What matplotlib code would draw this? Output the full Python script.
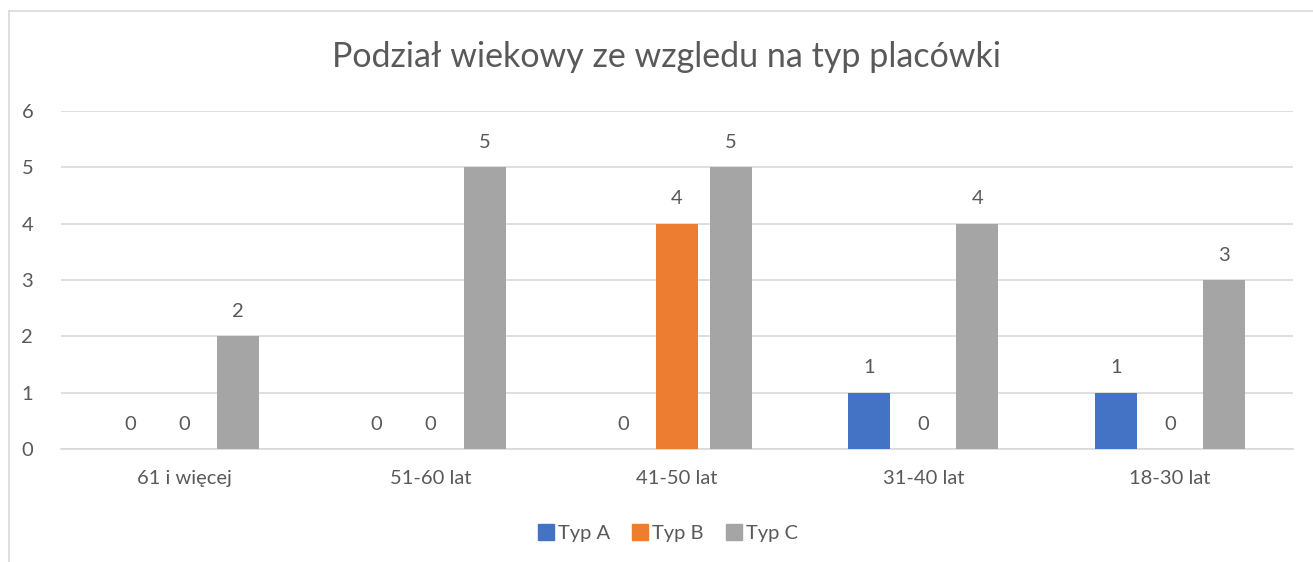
import matplotlib
matplotlib.use("Agg")
import matplotlib.pyplot as plt
import numpy as np
from matplotlib.lines import Line2D

categories = ["61 i więcej", "51-60 lat", "41-50 lat", "31-40 lat", "18-30 lat"]
series_names = ["Typ A", "Typ B", "Typ C"]
typ_a = [0, 0, 0, 1, 1]
typ_b = [0, 0, 4, 0, 0]
typ_c = [2, 5, 5, 4, 3]
colors = ["#4472C4", "#ED7D31", "#A5A5A5"]
title = "Podział wiekowy ze wzgledu na typ placówki"

plt.rcParams['font.family'] = ['Lato', 'DejaVu Sans']
txt = "#595959"

fig = plt.figure(figsize=(13.13, 5.62), dpi=100)
ax = fig.add_axes([61/1313, 1-449/562, (1293-61)/1313, (449-111)/562])

x = np.arange(len(categories))
offsets = [-0.219, 0.0, 0.219]
width = 0.170
for vals, off, col, name in zip([typ_a, typ_b, typ_c], offsets, colors, series_names):
    bars = ax.bar(x + off, vals, width, color=col, label=name, zorder=3)
    for b, v in zip(bars, vals):
        ax.annotate(str(v), (b.get_x() + b.get_width()/2, v), xytext=(0, 25),
                    textcoords="offset pixels", ha="center", va="center",
                    fontsize=14.5, color=txt)

ax.set_xlim(-0.5, len(categories) - 0.5)
ax.set_ylim(0, 6)
ax.set_yticks(range(0, 7))
ax.yaxis.grid(True, color="#D9D9D9", lw=1.2, zorder=0)
ax.set_axisbelow(True)
for s in ["top", "right", "left"]:
    ax.spines[s].set_visible(False)
ax.spines["bottom"].set_color("#D9D9D9")
ax.spines["bottom"].set_linewidth(1.2)
ax.set_xticks(x)
ax.set_xticklabels(categories)
ax.tick_params(axis="both", length=0, labelsize=14.5, colors=txt)
ax.tick_params(axis="y", pad=20)
ax.tick_params(axis="x", pad=15)

fig.text(667/1313, 1-57/562, title, ha="center", va="center", fontsize=24.5, color=txt)

handles = [Line2D([], [], marker="s", ls="", markersize=11, markerfacecolor=c,
                  markeredgecolor=c) for c in colors]
fig.legend(handles, series_names, loc="center", bbox_to_anchor=(667/1313, 1-533/562),
           ncol=3, frameon=False, fontsize=14.5, labelcolor=txt, handletextpad=0.1,
           columnspacing=1.0, handlelength=1.0)

# chart border (cropped)
fig.add_artist(Line2D([9/1313, 9/1313], [0, 1-11/562], color="#D9D9D9", lw=1.2))
fig.add_artist(Line2D([9/1313, 1], [1-11/562, 1-11/562], color="#D9D9D9", lw=1.2))

fig.savefig("out.png", dpi=100, facecolor="white")
